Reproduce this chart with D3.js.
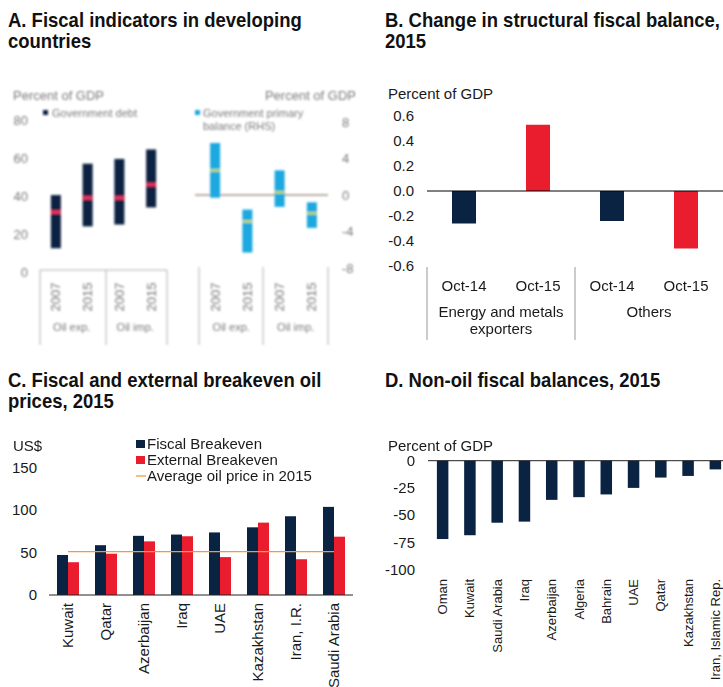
<!DOCTYPE html>
<html>
<head>
<meta charset="utf-8">
<script src="https://cdn.jsdelivr.net/npm/d3@7"></script>
<style>
  html, body { margin: 0; padding: 0; background: #fff; }
  svg { display: block; }
</style>
</head>
<body>
<svg id="chart" width="723" height="687"></svg>
<script>
// ---- Panel A: fiscal indicators (ranges with median markers) ----
const aYears = ["2007", "2015", "2007", "2015"];
const aGroups = ["Oil exp.", "Oil imp."];
const debtHigh = [40.5, 57, 59.5, 64.5];
const debtLow = [12.5, 24, 25, 34];
const debtMid = [31.5, 39, 39, 46];
const balHigh = [5.7, -1.6, 2.7, -0.8];
const balLow = [-0.3, -6.3, -1.3, -3.6];
const balMid = [2.7, -2.9, 0.3, -2.0];
const aDebtTicks = [0, 20, 40, 60, 80];
const aBalTicks = [-8, -4, 0, 4, 8];

// ---- Panel B: change in structural fiscal balance ----
const bCats = ["Oct-14", "Oct-15", "Oct-14", "Oct-15"];
const bGroups = [["Energy and metals", "exporters"], ["Others"]];
const bValues = [-0.26, 0.53, -0.24, -0.46];
const bTicks = [-0.6, -0.4, -0.2, 0.0, 0.2, 0.4, 0.6];

// ---- Panel C: breakeven oil prices ----
const cCountries = ["Kuwait", "Qatar", "Azerbaijan", "Iraq", "UAE", "Kazakhstan", "Iran, I.R.", "Saudi Arabia"];
const cFiscal = [47, 58.5, 69.5, 71, 73.5, 79.5, 92.5, 103.5];
const cExternal = [38.5, 48.5, 63, 69, 44.5, 85, 42, 68.5];
const cOilPrice = 51;
const cTicks = [0, 50, 100, 150];
const cLegend = ["Fiscal Breakeven", "External Breakeven", "Average oil price in 2015"];

// ---- Panel D: non-oil fiscal balances ----
const dCountries = ["Oman", "Kuwait", "Saudi Arabia", "Iraq", "Azerbaijan", "Algeria", "Bahrain", "UAE", "Qatar", "Kazakhstan", "Iran, Islamic Rep."];
const dValues = [-72, -68.5, -57, -56, -36, -33.5, -31, -25, -15.5, -14, -8];
const dTicks = [-100, -75, -50, -25, 0];

const NAVY = "#0b2343";
const RED = "#e91d2e";
const CYAN = "#1ba8e0";
const ORANGE = "#f7963a";
const TITLE_FONT = "'Liberation Sans', Arial, sans-serif";
const BODY_FONT = "'Liberation Sans', Arial, sans-serif";
const TEXT = "#1a1a1a";

const svg = d3.select("#chart");
const defs = svg.append("defs");
defs.append("filter").attr("id", "soft")
  .attr("x", "-5%").attr("y", "-5%").attr("width", "110%").attr("height", "110%")
  .append("feGaussianBlur").attr("stdDeviation", 0.8);
defs.append("clipPath").attr("id", "clipA")
  .append("rect").attr("x", 0).attr("y", 60).attr("width", 356).attr("height", 290);

// panel titles: bold, horizontally condensed
function title(x, y, lines) {
  const t = svg.append("text")
    .attr("transform", `translate(${x},${y}) scale(0.925,1)`)
    .attr("font-family", TITLE_FONT).attr("font-weight", "bold")
    .attr("font-size", 20).attr("fill", "#111");
  lines.forEach((s, i) => t.append("tspan").attr("x", 0).attr("y", i * 21).text(s));
}
title(8, 27, ["A. Fiscal indicators in developing", "countries"]);
title(385, 27, ["B. Change in structural fiscal balance,", "2015"]);
title(8, 387, ["C. Fiscal and external breakeven oil", "prices, 2015"]);
title(385, 387, ["D. Non-oil fiscal balances, 2015"]);

function styleAxis(g, size, color) {
  g.select(".domain").remove();
  g.selectAll(".tick line").remove();
  g.selectAll("text").attr("font-family", BODY_FONT).attr("font-size", size).attr("fill", color);
}

// ================= Panel A =================
{
  const gA = svg.append("g").attr("clip-path", "url(#clipA)")
    .append("g").attr("filter", "url(#soft)");
  const GREY = "#7a7a7a";
  const LINE = "#b0b0b0";

  const yDebt = d3.scaleLinear().domain([0, 80]).range([272, 120]);
  const xDebt = d3.scaleBand().domain(d3.range(aYears.length)).range([40, 167]);
  const yBal = d3.scaleLinear().domain([-8, 8]).range([268, 122]);
  const xBal = d3.scaleBand().domain(d3.range(aYears.length)).range([199, 328]);

  gA.append("g").attr("transform", "translate(28,0)")
    .call(d3.axisLeft(yDebt).tickValues(aDebtTicks).tickSize(0).tickPadding(0).tickFormat(d => String(d)))
    .call(g => styleAxis(g, 13, GREY));
  gA.append("g").attr("transform", "translate(342,0)")
    .call(d3.axisRight(yBal).tickValues(aBalTicks).tickSize(0).tickPadding(0).tickFormat(d => String(d)))
    .call(g => styleAxis(g, 13, GREY));

  gA.append("text").attr("x", 13).attr("y", 100).attr("font-family", BODY_FONT)
    .attr("font-size", 13).attr("fill", GREY).text("Percent of GDP");
  gA.append("text").attr("x", 356).attr("y", 100).attr("text-anchor", "end").attr("font-family", BODY_FONT)
    .attr("font-size", 13).attr("fill", GREY).text("Percent of GDP");

  // legends
  gA.append("rect").attr("x", 43).attr("y", 110).attr("width", 5).attr("height", 5).attr("fill", NAVY);
  gA.append("text").attr("x", 52).attr("y", 117).attr("font-family", BODY_FONT)
    .attr("font-size", 11).attr("fill", GREY).text("Government debt");
  gA.append("rect").attr("x", 195).attr("y", 110).attr("width", 5).attr("height", 5).attr("fill", CYAN);
  const lt = gA.append("text").attr("x", 203).attr("y", 117).attr("font-family", BODY_FONT)
    .attr("font-size", 11).attr("fill", GREY);
  lt.append("tspan").attr("x", 203).text("Government primary");
  lt.append("tspan").attr("x", 203).attr("dy", 13).text("balance (RHS)");

  // zero line for balance
  gA.append("line").attr("x1", 195).attr("x2", 328).attr("y1", yBal(0)).attr("y2", yBal(0))
    .attr("stroke", "#a59488").attr("stroke-width", 1.5);

  const bwA = 10;
  gA.selectAll(".debt").data(aYears).join("rect")
    .attr("x", (d, i) => xDebt(i) + xDebt.bandwidth() / 2 - bwA / 2)
    .attr("y", (d, i) => yDebt(debtHigh[i]))
    .attr("width", bwA)
    .attr("height", (d, i) => yDebt(debtLow[i]) - yDebt(debtHigh[i]))
    .attr("fill", NAVY);
  gA.selectAll(".debtMid").data(aYears).join("rect")
    .attr("x", (d, i) => xDebt(i) + xDebt.bandwidth() / 2 - bwA / 2)
    .attr("y", (d, i) => yDebt(debtMid[i]) - 2)
    .attr("width", bwA).attr("height", 4).attr("fill", "#e3335d");

  gA.selectAll(".bal").data(aYears).join("rect")
    .attr("x", (d, i) => xBal(i) + xBal.bandwidth() / 2 - bwA / 2)
    .attr("y", (d, i) => yBal(balHigh[i]))
    .attr("width", bwA)
    .attr("height", (d, i) => yBal(balLow[i]) - yBal(balHigh[i]))
    .attr("fill", CYAN);
  gA.selectAll(".balMid").data(aYears).join("rect")
    .attr("x", (d, i) => xBal(i) + xBal.bandwidth() / 2 - bwA / 2)
    .attr("y", (d, i) => yBal(balMid[i]) - 1.5)
    .attr("width", bwA).attr("height", 3).attr("fill", "#b9d77a");

  // category boxes
  const boxTop = 270, boxBot = 345;
  gA.append("line").attr("x1", 40).attr("x2", 167).attr("y1", boxTop).attr("y2", boxTop)
    .attr("stroke", LINE);
  [40, 106, 167].forEach(x => gA.append("line").attr("x1", x).attr("x2", x)
    .attr("y1", boxTop).attr("y2", boxBot).attr("stroke", LINE));
  [199, 263, 328].forEach(x => gA.append("line").attr("x1", x).attr("x2", x)
    .attr("y1", boxTop - 3).attr("y2", boxBot).attr("stroke", LINE));

  [xDebt, xBal].forEach(xs => {
    aYears.forEach((yr, i) => {
      const cx = xs(i) + xs.bandwidth() / 2;
      gA.append("text").attr("transform", `translate(${cx},${297}) rotate(-90)`)
        .attr("text-anchor", "middle").attr("dy", "0.35em")
        .attr("font-family", BODY_FONT).attr("font-size", 13).attr("fill", GREY).text(yr);
    });
    aGroups.forEach((gname, j) => {
      const cx = (xs(j * 2) + xs(j * 2 + 1) + xs.bandwidth()) / 2;
      gA.append("text").attr("x", cx).attr("y", 331).attr("text-anchor", "middle")
        .attr("font-family", BODY_FONT).attr("font-size", 11).attr("fill", GREY).text(gname);
    });
  });
}

// ================= Panel B =================
{
  const g = svg.append("g");
  const y = d3.scaleLinear().domain([-0.6, 0.6]).range([266, 116]);
  const x = d3.scaleBand().domain(d3.range(bCats.length)).range([427, 723]);
  const bw = 24;

  g.append("text").attr("x", 388).attr("y", 99).attr("font-family", BODY_FONT)
    .attr("font-size", 15).attr("fill", TEXT).text("Percent of GDP");

  g.append("g").attr("transform", "translate(414,0)")
    .call(d3.axisLeft(y).tickValues(bTicks).tickSize(0).tickPadding(0).tickFormat(d => d.toFixed(1)))
    .call(a => styleAxis(a, 15, TEXT));

  g.selectAll(".bar").data(bValues).join("rect")
    .attr("x", (d, i) => x(i) + x.bandwidth() / 2 - bw / 2)
    .attr("y", d => y(Math.max(0, d)))
    .attr("width", bw)
    .attr("height", d => Math.abs(y(d) - y(0)))
    .attr("fill", (d, i) => i % 2 ? RED : NAVY);

  g.append("line").attr("x1", 427).attr("x2", 723).attr("y1", y(0)).attr("y2", y(0))
    .attr("stroke", "#000").attr("stroke-width", 1);

  [427, 575].forEach(xx => g.append("line").attr("x1", xx).attr("x2", xx)
    .attr("y1", 267).attr("y2", 340).attr("stroke", "#999"));

  bCats.forEach((c, i) => {
    g.append("text").attr("x", x(i) + x.bandwidth() / 2).attr("y", 291).attr("text-anchor", "middle")
      .attr("font-family", BODY_FONT).attr("font-size", 15).attr("fill", TEXT).text(c);
  });
  bGroups.forEach((lines, j) => {
    const cx = (x(j * 2) + x(j * 2 + 1) + x.bandwidth()) / 2;
    lines.forEach((s, k) => g.append("text").attr("x", cx).attr("y", 317 + k * 17)
      .attr("text-anchor", "middle").attr("font-family", BODY_FONT).attr("font-size", 15)
      .attr("fill", TEXT).text(s));
  });
}

// ================= Panel C =================
{
  const g = svg.append("g");
  const y = d3.scaleLinear().domain([0, 150]).range([595, 467.3]);
  const x = d3.scaleBand().domain(cCountries).range([49, 353]);
  const bw = 11;

  g.append("text").attr("x", 13).attr("y", 451).attr("font-family", BODY_FONT)
    .attr("font-size", 15).attr("fill", TEXT).text("US$");

  g.append("g").attr("transform", "translate(37,0)")
    .call(d3.axisLeft(y).tickValues(cTicks).tickSize(0).tickPadding(0).tickFormat(d => String(d)))
    .call(a => styleAxis(a, 15, TEXT));

  g.selectAll(".fb").data(cFiscal).join("rect")
    .attr("x", (d, i) => x(cCountries[i]) + x.bandwidth() / 2 - bw)
    .attr("y", d => y(d)).attr("width", bw).attr("height", d => y(0) - y(d)).attr("fill", NAVY);
  g.selectAll(".eb").data(cExternal).join("rect")
    .attr("x", (d, i) => x(cCountries[i]) + x.bandwidth() / 2)
    .attr("y", d => y(d)).attr("width", bw).attr("height", d => y(0) - y(d)).attr("fill", RED);

  g.append("line")
    .attr("x1", x(cCountries[0]) + x.bandwidth() / 2)
    .attr("x2", x(cCountries[cCountries.length - 1]) + x.bandwidth() / 2)
    .attr("y1", y(cOilPrice)).attr("y2", y(cOilPrice))
    .attr("stroke", ORANGE).attr("stroke-width", 1.3);

  g.append("line").attr("x1", 49).attr("x2", 353).attr("y1", y(0)).attr("y2", y(0))
    .attr("stroke", "#222").attr("stroke-width", 1);

  cCountries.forEach(c => {
    g.append("text").attr("transform", `translate(${x(c) + x.bandwidth() / 2},603) rotate(-90)`)
      .attr("text-anchor", "end").attr("dy", "0.35em")
      .attr("font-family", BODY_FONT).attr("font-size", 15).attr("fill", TEXT).text(c);
  });

  // legend
  const ly = [444, 460, 476];
  g.append("rect").attr("x", 136).attr("y", ly[0] - 4).attr("width", 9).attr("height", 8).attr("fill", NAVY);
  g.append("rect").attr("x", 136).attr("y", ly[1] - 4).attr("width", 9).attr("height", 8).attr("fill", RED);
  g.append("line").attr("x1", 136).attr("x2", 146).attr("y1", ly[2]).attr("y2", ly[2])
    .attr("stroke", ORANGE).attr("stroke-width", 1.3);
  cLegend.forEach((s, i) => g.append("text").attr("x", 147).attr("y", ly[i]).attr("dy", "0.35em")
    .attr("font-family", BODY_FONT).attr("font-size", 15).attr("fill", TEXT).text(s));
}

// ================= Panel D =================
{
  const g = svg.append("g");
  const y = d3.scaleLinear().domain([-100, 0]).range([569.5, 460.7]);
  const x = d3.scaleBand().domain(dCountries).range([429, 729]);
  const bw = 11.5;

  g.append("text").attr("x", 388).attr("y", 451).attr("font-family", BODY_FONT)
    .attr("font-size", 15).attr("fill", TEXT).text("Percent of GDP");

  g.append("g").attr("transform", "translate(415,0)")
    .call(d3.axisLeft(y).tickValues(dTicks).tickSize(0).tickPadding(0).tickFormat(d => String(d)))
    .call(a => styleAxis(a, 15, TEXT));

  g.selectAll(".bar").data(dValues).join("rect")
    .attr("x", (d, i) => x(dCountries[i]) + x.bandwidth() / 2 - bw / 2)
    .attr("y", y(0)).attr("width", bw).attr("height", d => y(d) - y(0)).attr("fill", NAVY);

  g.append("line").attr("x1", 428).attr("x2", 723).attr("y1", y(0)).attr("y2", y(0))
    .attr("stroke", "#222").attr("stroke-width", 1);

  dCountries.forEach(c => {
    g.append("text").attr("transform", `translate(${x(c) + x.bandwidth() / 2},579) rotate(-90)`)
      .attr("text-anchor", "end").attr("dy", "0.35em")
      .attr("font-family", BODY_FONT).attr("font-size", 13).attr("fill", TEXT).text(c);
  });
}
</script>
</body>
</html>
